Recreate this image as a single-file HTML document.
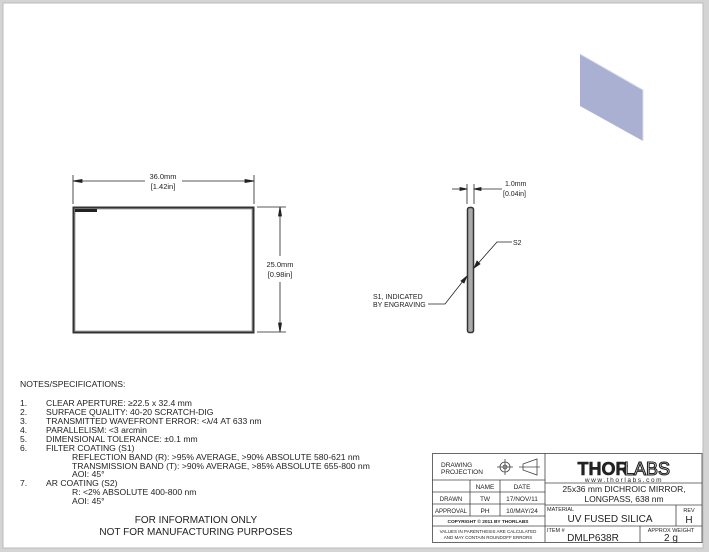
<!DOCTYPE html>
<html><head><meta charset="utf-8"><style>
html,body{margin:0;padding:0;background:#fff;}
svg{display:block;}
text{font-family:"Liberation Sans",sans-serif;fill:#222;}
</style></head><body>
<svg width="709" height="552" viewBox="0 0 709 552" xmlns="http://www.w3.org/2000/svg">
<rect x="0" y="0" width="709" height="552" fill="#d4d4d4"/>
<rect x="3" y="3" width="700" height="545" fill="#fff" stroke="#bbb" stroke-width="1"/>

<!-- iso view -->
<polygon points="580,54 643,90 643,141 580,106" fill="#aab0d2"/>
<polyline points="580,54 643,90 643,141" fill="none" stroke="#d8dcf0" stroke-width="1"/>

<!-- front view -->
<rect x="73.5" y="207.5" width="180" height="125" fill="none" stroke="#333" stroke-width="2"/>
<rect x="75" y="209" width="177" height="122" fill="none" stroke="#888" stroke-width="0.7"/>
<rect x="75" y="209" width="22" height="3" fill="#222"/>
<g stroke="#222" stroke-width="0.8" fill="#222">
<line x1="73" y1="175" x2="73" y2="204"/>
<line x1="254" y1="175" x2="254" y2="204"/>
<line x1="73" y1="181" x2="145" y2="181"/>
<line x1="182" y1="181" x2="254" y2="181"/>
<polygon points="73,181 82,179.5 82,182.5"/>
<polygon points="254,181 245,179.5 245,182.5"/>
<line x1="257" y1="207" x2="286" y2="207"/>
<line x1="257" y1="332" x2="286" y2="332"/>
<line x1="280" y1="207" x2="280" y2="256"/>
<line x1="280" y1="282" x2="280" y2="332"/>
<polygon points="280,207 278.5,216 281.5,216"/>
<polygon points="280,332 278.5,323 281.5,323"/>
</g>
<text x="163" y="179" font-size="7.5" text-anchor="middle">36.0mm</text>
<text x="163" y="189" font-size="7.5" text-anchor="middle">[1.42in]</text>
<text x="280" y="267" font-size="7.5" text-anchor="middle">25.0mm</text>
<text x="280" y="277" font-size="7.5" text-anchor="middle">[0.98in]</text>

<!-- side view -->
<rect x="467.5" y="207.5" width="6" height="125" rx="2" fill="#aaa" stroke="#333" stroke-width="1.5"/>
<g stroke="#222" stroke-width="0.8" fill="#222">
<line x1="467" y1="184" x2="467" y2="204"/>
<line x1="474" y1="184" x2="474" y2="204"/>
<line x1="452" y1="189" x2="467" y2="189"/>
<line x1="474" y1="189" x2="502" y2="189"/>
<polygon points="467,189 460,187.5 460,190.5"/>
<polygon points="474,189 481,187.5 481,190.5"/>
<polyline points="474,268 497,242 512,242" fill="none"/>
<polygon points="474,268 477,261 480,264"/>
<polyline points="467,276 445,304 428,304" fill="none"/>
<polygon points="467,276 461,281 464,283"/>
</g>
<text x="505" y="186" font-size="7">1.0mm</text>
<text x="503" y="196" font-size="7">[0.04in]</text>
<text x="513" y="245" font-size="7">S2</text>
<text x="373" y="299" font-size="7">S1, INDICATED</text>
<text x="373" y="307" font-size="7">BY ENGRAVING</text>

<!-- notes -->
<g font-size="8.6">
<text x="20" y="387">NOTES/SPECIFICATIONS:</text>
<text x="20" y="406">1.</text><text x="46" y="406">CLEAR APERTURE: ≥22.5 x 32.4 mm</text>
<text x="20" y="415">2.</text><text x="46" y="415">SURFACE QUALITY: 40-20 SCRATCH-DIG</text>
<text x="20" y="424">3.</text><text x="46" y="424">TRANSMITTED WAVEFRONT ERROR: &lt;λ/4 AT 633 nm</text>
<text x="20" y="433">4.</text><text x="46" y="433">PARALLELISM: &lt;3 arcmin</text>
<text x="20" y="442">5.</text><text x="46" y="442">DIMENSIONAL TOLERANCE: ±0.1 mm</text>
<text x="20" y="451">6.</text><text x="46" y="451">FILTER COATING (S1)</text>
<text x="72" y="460">REFLECTION BAND (R): &gt;95% AVERAGE, &gt;90% ABSOLUTE 580-621 nm</text>
<text x="72" y="469">TRANSMISSION BAND (T): &gt;90% AVERAGE, &gt;85% ABSOLUTE 655-800 nm</text>
<text x="72" y="477">AOI: 45°</text>
<text x="20" y="486">7.</text><text x="46" y="486">AR COATING (S2)</text>
<text x="72" y="495">R: &lt;2% ABSOLUTE 400-800 nm</text>
<text x="72" y="504">AOI: 45°</text>
</g>
<text x="196" y="523" font-size="10" text-anchor="middle">FOR INFORMATION ONLY</text>
<text x="196" y="535" font-size="10" text-anchor="middle">NOT FOR MANUFACTURING PURPOSES</text>

<!-- title block -->
<g stroke="#444" stroke-width="0.8" fill="none">
<rect x="432.5" y="453.5" width="269.5" height="89"/>
<line x1="545" y1="453" x2="545" y2="542"/>
<line x1="432" y1="480" x2="545" y2="480"/>
<line x1="432" y1="492" x2="545" y2="492"/>
<line x1="432" y1="504" x2="545" y2="504"/>
<line x1="432" y1="516" x2="545" y2="516"/>
<line x1="432" y1="526" x2="545" y2="526"/>
<line x1="470" y1="480" x2="470" y2="516"/>
<line x1="500" y1="480" x2="500" y2="516"/>
<line x1="545" y1="483" x2="702" y2="483"/>
<line x1="545" y1="505" x2="702" y2="505"/>
<line x1="545" y1="526" x2="702" y2="526"/>
<line x1="676" y1="505" x2="676" y2="526"/>
<line x1="640" y1="526" x2="640" y2="542"/>
<circle cx="505" cy="467" r="5"/>
<circle cx="505" cy="467" r="2"/>
<line x1="497" y1="467" x2="513" y2="467"/>
<line x1="505" y1="459" x2="505" y2="475"/>
<polygon points="523,464 537,459 537,475 523,470"/>
<line x1="519" y1="467" x2="540" y2="467"/>
</g>
<g font-size="6.5">
<text x="441" y="467">DRAWING</text>
<text x="441" y="474">PROJECTION</text>
<text x="485" y="489" text-anchor="middle">NAME</text>
<text x="522" y="489" text-anchor="middle">DATE</text>
<text x="451" y="501" text-anchor="middle" font-size="6">DRAWN</text>
<text x="485" y="501" text-anchor="middle">TW</text>
<text x="522" y="501" text-anchor="middle">17/NOV/11</text>
<text x="451" y="513" text-anchor="middle" font-size="6">APPROVAL</text>
<text x="485" y="513" text-anchor="middle">PH</text>
<text x="522" y="513" text-anchor="middle">10/MAY/24</text>
</g>
<text x="488" y="523" font-size="4.8" text-anchor="middle" font-weight="bold">COPYRIGHT © 2011 BY THORLABS</text>
<text x="488" y="533" font-size="4.5" text-anchor="middle">VALUES IN PARENTHESIS ARE CALCULATED</text>
<text x="488" y="539" font-size="4.5" text-anchor="middle">AND MAY CONTAIN ROUNDOFF ERRORS</text>
<text x="603" y="475" font-size="18" font-weight="bold" text-anchor="middle" style="fill:#222;stroke:#222;stroke-width:0.6">THOR</text>
<text x="647" y="475" font-size="18" text-anchor="middle" style="fill:#fff;stroke:#222;stroke-width:1.1">LABS</text>
<text x="624" y="482" font-size="6.5" text-anchor="middle" letter-spacing="1.6">www.thorlabs.com</text>
<text x="624" y="492" font-size="8.5" text-anchor="middle">25x36 mm DICHROIC MIRROR,</text>
<text x="624" y="502" font-size="8.5" text-anchor="middle">LONGPASS, 638 nm</text>
<text x="547" y="511" font-size="5.5">MATERIAL</text>
<text x="610" y="522" font-size="10" text-anchor="middle">UV FUSED SILICA</text>
<text x="689" y="512" font-size="5.5" text-anchor="middle">REV</text>
<text x="689" y="523" font-size="10" text-anchor="middle">H</text>
<text x="547" y="532" font-size="5.5">ITEM #</text>
<text x="593" y="541" font-size="10" text-anchor="middle">DMLP638R</text>
<text x="671" y="532" font-size="5.5" text-anchor="middle">APPROX WEIGHT</text>
<text x="671" y="541" font-size="10" text-anchor="middle">2 g</text>
</svg>
</body></html>
